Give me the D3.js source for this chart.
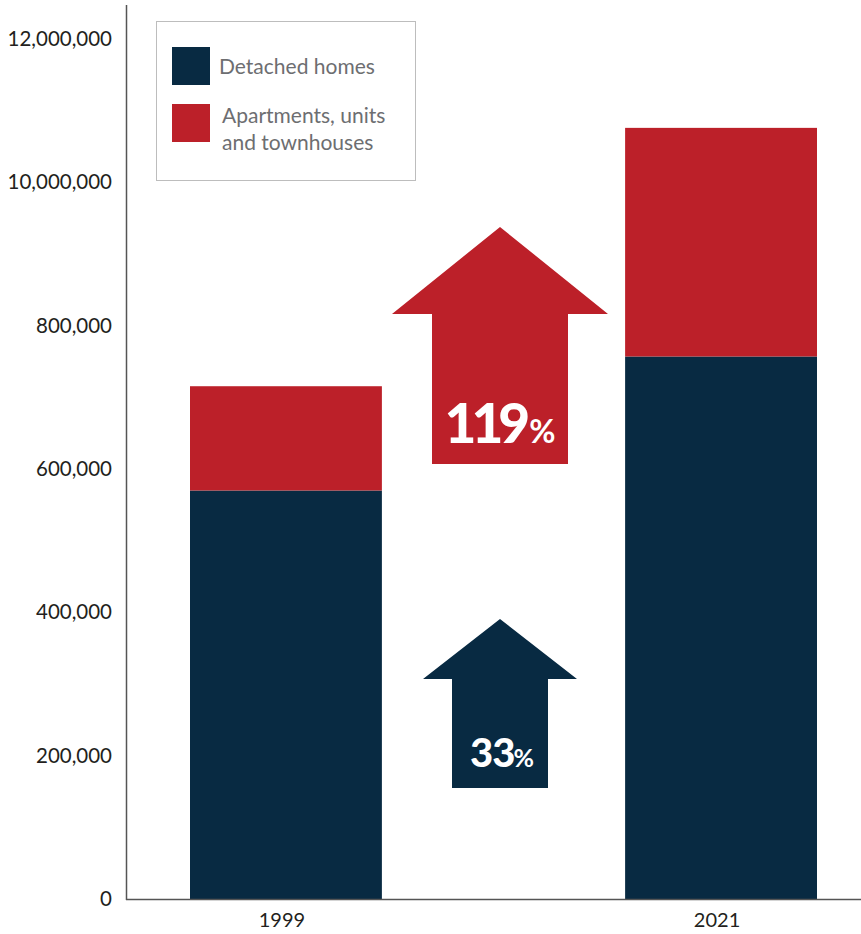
<!DOCTYPE html>
<html>
<head>
<meta charset="utf-8">
<script src="https://cdn.jsdelivr.net/npm/d3@7"></script>
<style>
  html, body { margin: 0; padding: 0; background: #fff; }
  svg { display: block; }
</style>
</head>
<body>
<svg id="chart" width="861" height="934"></svg>
<script>
// Dwellings by type, 1999 vs 2021
const years = ["1999", "2021"];
const detached = [570000, 757000];
const apartments = [145500, 319000];
const seriesNames = ["Detached homes", "Apartments, units\nand townhouses"];
const tickValues = [0, 200000, 400000, 600000, 800000, 1000000, 1200000];
const tickLabels = ["0", "200,000", "400,000", "600,000", "800,000", "10,000,000", "12,000,000"];

const NAVY = "#082a42";
const RED = "#bc2029";
const colors = [NAVY, RED];

const svg = d3.select("#chart");
const FONT = "Lato, 'Open Sans', sans-serif";

const x = d3.scaleBand().domain(years).range([190, 817]).paddingInner(0.559).paddingOuter(0);
const y = d3.scaleLinear().domain([0, 1200000]).range([899, 39]);

// stacked bars
const rows = years.map((yr, i) => ({ year: yr, detached: detached[i], apartments: apartments[i] }));
const stack = d3.stack().keys(["detached", "apartments"])(rows);

svg.append("g").selectAll("g")
  .data(stack)
  .join("g")
  .attr("fill", (d, i) => colors[i])
  .selectAll("rect")
  .data(d => d)
  .join("rect")
  .attr("x", d => x(d.data.year))
  .attr("width", x.bandwidth())
  .attr("y", d => y(d[1]))
  .attr("height", d => y(d[0]) - y(d[1]));

// y axis
const yAxis = svg.append("g")
  .attr("transform", "translate(126,0)")
  .call(d3.axisLeft(y).tickValues(tickValues).tickSize(0).tickPadding(14)
    .tickFormat((d, i) => tickLabels[i]));
yAxis.select(".domain").remove();
yAxis.selectAll("text")
  .attr("font-family", FONT).attr("font-size", 20.5).attr("fill", "#231f20");

svg.append("line")
  .attr("x1", 126.5).attr("x2", 126.5).attr("y1", 5).attr("y2", 900)
  .attr("stroke", "#555").attr("stroke-width", 1.5);

// x axis
const xAxis = svg.append("g")
  .attr("transform", "translate(0,899.5)")
  .call(d3.axisBottom(x).tickSize(0).tickPadding(13));
xAxis.select(".domain").remove();
xAxis.selectAll("text")
  .attr("dx", -4)
  .attr("font-family", FONT).attr("font-size", 20).attr("fill", "#231f20");

svg.append("line")
  .attr("x1", 126).attr("x2", 861).attr("y1", 899.5).attr("y2", 899.5)
  .attr("stroke", "#555").attr("stroke-width", 1.5);

// growth arrows between the two bars
const pct = (a, b) => Math.round((b / a - 1) * 100);
const arrows = [
  { key: "apartments", color: RED, cx: 500, tip: 227, wing: 314, headHalf: 108, shaftHalf: 68, bottom: 464,
    numSize: 55, pctSize: 32, textY: 443, ls: -5, tx: 500, gap: 4 },
  { key: "detached", color: NAVY, cx: 500, tip: 619, wing: 679, headHalf: 77, shaftHalf: 48, bottom: 788,
    numSize: 40, pctSize: 25, textY: 767, ls: -1, tx: 502, gap: -1 }
];
const series = { detached, apartments };

arrows.forEach(a => {
  const pts = [
    [a.cx, a.tip],
    [a.cx + a.headHalf, a.wing],
    [a.cx + a.shaftHalf, a.wing],
    [a.cx + a.shaftHalf, a.bottom],
    [a.cx - a.shaftHalf, a.bottom],
    [a.cx - a.shaftHalf, a.wing],
    [a.cx - a.headHalf, a.wing]
  ];
  svg.append("path")
    .attr("d", d3.line()(pts) + "Z")
    .attr("fill", a.color);

  const vals = series[a.key];
  const t = svg.append("text")
    .attr("x", a.tx).attr("y", a.textY)
    .attr("text-anchor", "middle")
    .attr("font-family", FONT).attr("font-weight", 900)
    .attr("fill", "#fff");
  t.append("tspan").attr("font-size", a.numSize).attr("letter-spacing", a.ls)
    .text(pct(vals[0], vals[vals.length - 1]));
  t.append("tspan").attr("font-size", a.pctSize).attr("font-weight", 700).attr("dx", a.gap).text("%");
});

// legend
const legend = svg.append("g");
legend.append("rect")
  .attr("x", 156.5).attr("y", 21.5).attr("width", 259).attr("height", 159)
  .attr("fill", "#fff").attr("stroke", "#bdbdbd").attr("stroke-width", 1);

const legendRows = [
  { y: 47, textY: [74] },
  { y: 104, textY: [123, 150] }
];
seriesNames.forEach((name, i) => {
  const r = legendRows[i];
  legend.append("rect")
    .attr("x", 172).attr("y", r.y).attr("width", 38).attr("height", 38)
    .attr("fill", colors[i]);
  const t = legend.append("text")
    .attr("font-family", FONT).attr("font-size", 21).attr("fill", "#6d6e71");
  name.split("\n").forEach((line, j) => {
    t.append("tspan").attr("x", i === 0 ? 219 : 222).attr("y", r.textY[j]).text(line);
  });
});
</script>
</body>
</html>
